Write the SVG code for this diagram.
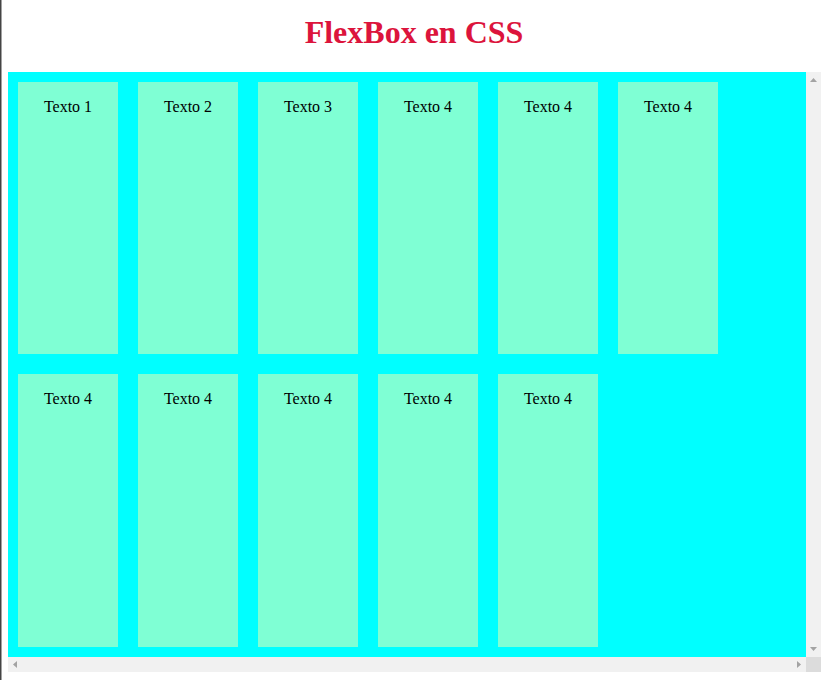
<svg xmlns="http://www.w3.org/2000/svg" width="826" height="680" viewBox="0 0 826 680">
<style>
.item{fill:#7fffd4}
.lbl{font-family:"Liberation Serif",serif;font-size:16px;fill:#000;text-anchor:middle}
.arrow{fill:#a3a3a3}
</style>
<rect x="0" y="0" width="826" height="680" fill="#fff"/>
<rect x="0" y="0" width="1.5" height="680" fill="#444"/>
<text x="414" y="43" font-family="'Liberation Serif',serif" font-size="32" font-weight="bold" fill="#dc143c" text-anchor="middle">FlexBox en CSS</text>
<rect id="container" x="8" y="72" width="798" height="585" fill="#00ffff"/>
<g id="scrollbars">
<rect x="806" y="72" width="15" height="585" fill="#f1f1f1"/>
<rect x="8" y="657" width="798" height="15" fill="#f1f1f1"/>
<rect x="806" y="657" width="15" height="15" fill="#dcdcdc"/>
<polygon class="arrow" points="810,82 817,82 813.5,78"/>
<polygon class="arrow" points="810,647 817,647 813.5,651"/>
<polygon class="arrow" points="17,661 17,668 13,664.5"/>
<polygon class="arrow" points="797,661 797,668 801,664.5"/>
</g>
<g id="n1"><rect class="item" x="18" y="82" width="100" height="272"/><text class="lbl" x="68" y="112">Texto 1</text></g>
<g id="n2"><rect class="item" x="138" y="82" width="100" height="272"/><text class="lbl" x="188" y="112">Texto 2</text></g>
<g id="n3"><rect class="item" x="258" y="82" width="100" height="272"/><text class="lbl" x="308" y="112">Texto 3</text></g>
<g id="n4"><rect class="item" x="378" y="82" width="100" height="272"/><text class="lbl" x="428" y="112">Texto 4</text></g>
<g id="n5"><rect class="item" x="498" y="82" width="100" height="272"/><text class="lbl" x="548" y="112">Texto 4</text></g>
<g id="n6"><rect class="item" x="618" y="82" width="100" height="272"/><text class="lbl" x="668" y="112">Texto 4</text></g>
<g id="n7"><rect class="item" x="18" y="374" width="100" height="273"/><text class="lbl" x="68" y="404">Texto 4</text></g>
<g id="n8"><rect class="item" x="138" y="374" width="100" height="273"/><text class="lbl" x="188" y="404">Texto 4</text></g>
<g id="n9"><rect class="item" x="258" y="374" width="100" height="273"/><text class="lbl" x="308" y="404">Texto 4</text></g>
<g id="n10"><rect class="item" x="378" y="374" width="100" height="273"/><text class="lbl" x="428" y="404">Texto 4</text></g>
<g id="n11"><rect class="item" x="498" y="374" width="100" height="273"/><text class="lbl" x="548" y="404">Texto 4</text></g>
<g id="connectors"></g>
</svg>
